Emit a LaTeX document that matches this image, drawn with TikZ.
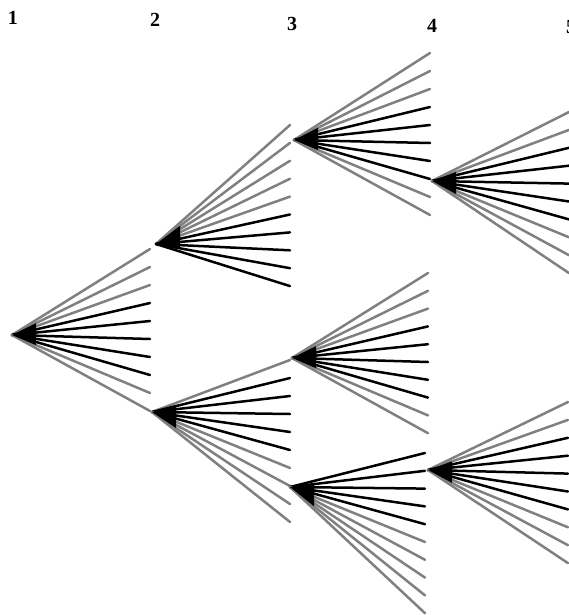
\documentclass[tikz,border=0pt]{standalone}
\usepackage{fontspec}
\setmainfont{Liberation Serif}
\tikzset{ray/.style={line width=2.5pt,line cap=round},stage/.style={font=\fontsize{20}{22}\selectfont\bfseries,inner sep=0pt}}
% fan of ten rays: apex, length, first offset, spacing
\newcommand{\fan}[4]{%
\foreach \k in {0,...,9}{\pgfmathsetmacro\dy{#3+\k*#4}\pgfmathsetmacro\sl{abs(\dy)/#2}%
\ifdim\sl pt<0.33pt\def\rc{black}\else\def\rc{black!50}\fi
\draw[ray,\rc] (#1) -- ++(#2,\dy);}
\fill (#1) -- ++(24,{(#3+#4)*24/#2}) -- ++(0,{7*#4*24/#2}) -- cycle;}
\begin{document}
\begin{tikzpicture}[x=1pt,y=-1pt]
\useasboundingbox (0,0) rectangle (569,615);\clip (0,0) rectangle (569,615);
\node[stage] (l1) at (13,18){1};\node[stage] (l2) at (155,20){2};\node[stage] (l3) at (292,24){3};\node[stage] (l4) at (432,26){4};\node[stage] (l5) at (571,27){5};
\coordinate (f1) at (12,335);\coordinate (f2a) at (156,244);\coordinate (f2b) at (152,412);
\coordinate (f3a) at (294,140);\coordinate (f3b) at (292,358);\coordinate (f3c) at (290,487);
\coordinate (f4a) at (432,181);\coordinate (f4b) at (428,470);
\fan{f1}{138}{-86}{18}
\fan{f2a}{134}{-119}{17.9}\fan{f2b}{138}{-52}{18}
\fan{f3a}{136}{-87}{18}\fan{f3b}{136}{-85}{17.8}\fan{f3c}{135}{-34}{17.8}
\fan{f4a}{137}{-69}{17.9}\fan{f4b}{140}{-68}{17.9}
\end{tikzpicture}
\end{document}
